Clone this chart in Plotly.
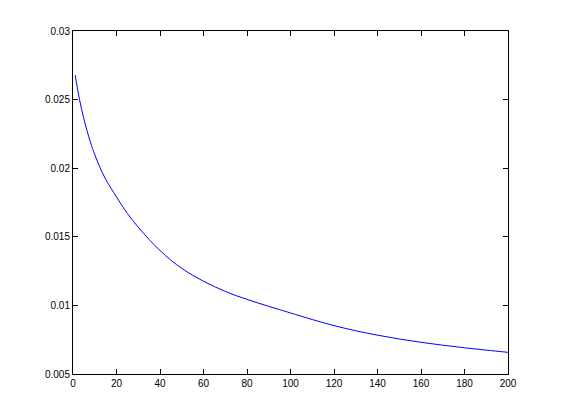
import plotly.graph_objs as go

# values
X = [1, 3, 5, 8, 10, 12, 15, 20, 25, 30, 35, 40, 45, 50, 55, 60, 65,
     70, 75, 80, 85, 90, 95, 100, 110, 120, 130, 140, 150, 160, 170, 180, 190, 200]
Y = [0.0268, 0.0250, 0.0236, 0.0219, 0.0210, 0.0202, 0.0192, 0.0179,
     0.0167, 0.0157, 0.0148, 0.0140, 0.0133, 0.0127, 0.0122, 0.01176, 0.01137,
     0.01102, 0.01071, 0.01044, 0.01018, 0.00993, 0.00969, 0.00945, 0.00897,
     0.00853, 0.00815, 0.00783, 0.00755, 0.00731, 0.0071, 0.00691, 0.00674, 0.00658]

X_TICKS = [0, 20, 40, 60, 80, 100, 120, 140, 160, 180, 200]
Y_TICKS = [0.005, 0.01, 0.015, 0.02, 0.025, 0.03]
Y_LABELS = ["0.005", "0.01", "0.015", "0.02", "0.025", "0.03"]

fig = go.Figure()
fig.add_trace(go.Scatter(x=X, y=Y, mode="lines",
                         line=dict(color="#0000ff", width=1),
                         line_shape="spline", showlegend=False))

axis_style = dict(showline=True, linecolor="black", linewidth=1, mirror="ticks",
                  ticks="inside", ticklen=5, tickcolor="black",
                  showgrid=False, zeroline=False, automargin=False,
                  tickfont=dict(family="Liberation Sans, Arial", size=10, color="black"))

# page body has an 8px margin, so the left/top margins are reduced by that
fig.update_layout(
    width=561, height=420,
    margin=dict(l=65, r=61, t=23, b=54),
    paper_bgcolor="white", plot_bgcolor="white",
    xaxis=dict(range=[0, 200], tickvals=X_TICKS, **axis_style),
    yaxis=dict(range=[0.005, 0.03], tickvals=Y_TICKS, ticktext=Y_LABELS, **axis_style),
)

fig.write_html("out.html")
